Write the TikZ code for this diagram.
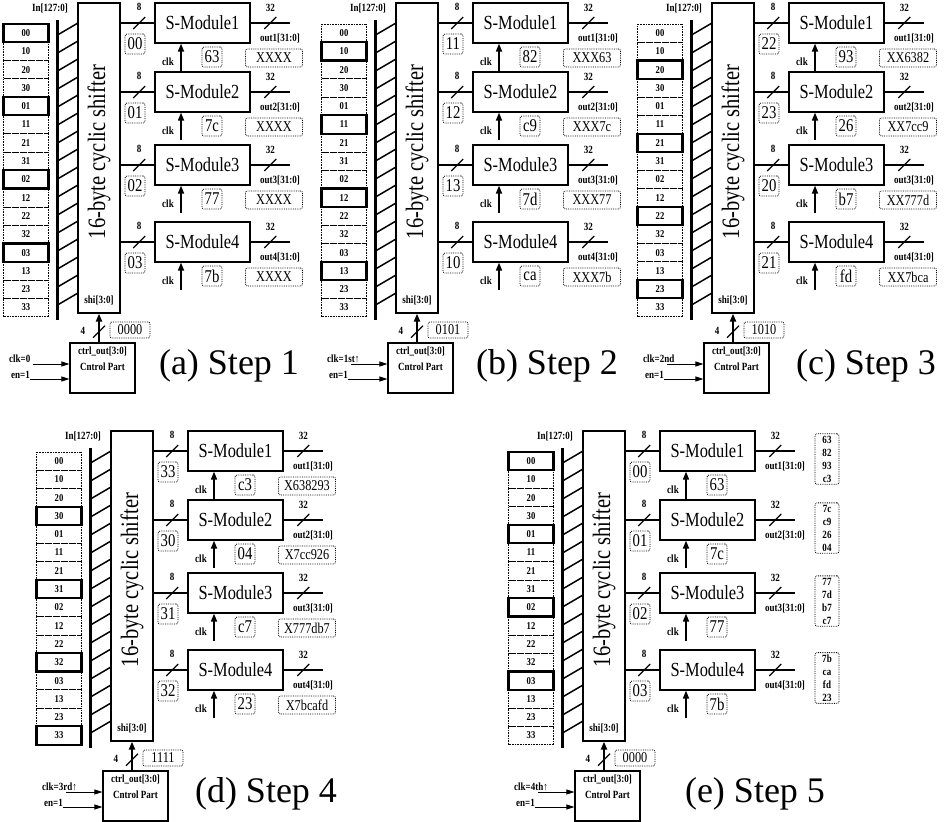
\documentclass[tikz,border=0pt]{standalone}
\usepackage{fontspec}
\newfontfamily\figfont{Liberation Serif}[FakeStretch=0.82]
\newfontfamily\capfont{Liberation Serif}
\usetikzlibrary{arrows.meta,positioning}

% one step of the shifter example
% #1 origin, #2 tag, #3 lit byte row, #4 module rows, #5 ctrl value,
% #6 clk text, #7 out box style, #8 caption x, #9 step number
\newcommand{\steppanel}[9]{%
\begin{scope}[shift={#1}]
  % input bytes
  \foreach \bj in {0,...,3}{
    \foreach \bi in {0,...,3}{
      \ifnum\bi=#3
        \node[litcell] (#2c\bi\bj) at (26,{33+18.3*(4*\bj+\bi)}) {\bi\bj};
      \else
        \node[cell] (#2c\bi\bj) at (26,{33+18.3*(4*\bj+\bi)}) {\bi\bj};
      \fi
    }
  }
  \node[lbl] (#2in) at (50,8) {In[127:0]};
  \draw[busline] (57.5,20) -- (57.5,320);
  \node[shifter] (#2sh) at (99,158) {};
  \foreach \k in {0,...,15}
    \draw[hatch] (57.5,{35+18*\k}) -- (78,{23+18*\k});
  \node[shtitle, rotate=90] (#2tt) at (99,152) {16-byte cyclic shifter};
  \node[lbl] (#2shi) at (99,300) {shi[3:0]};

  % modules
  \foreach \i/\sv/\rv/\ov in {#4}{
    \pgfmathsetmacro{\yc}{{23,92,165,242}[\i-1]}
    \node[module] (#2m\i) at (202.5,\yc) {S-Module\i};
    \draw[wire] (#2sh.east |- #2m\i) -- coordinate[pos=.55] (#2s\i) (#2m\i);
    \draw[slash] ([shift={(-6,6)}]#2s\i) -- ([shift={(6,-6)}]#2s\i);
    \node[lbl] at ([shift={(0,-16)}]#2s\i) {8};
    \node[valbox] (#2d\i) at (135,{\yc+21}) {\sv};
    \draw[obus] (#2m\i) -- coordinate[pos=.5] (#2t\i) (290,\yc) coordinate (#2o\i);
    \draw[slash] ([shift={(-6,6)}]#2t\i) -- ([shift={(6,-6)}]#2t\i);
    \node[lbl] at ([shift={(0,-15)}]#2t\i) {32};
    \node[lbl] at ([shift={(-10,15)}]#2o\i) {out\i[31:0]};
    \node[#7] (#2v\i) at (#2o\i) {\ov};
    \coordinate (#2k\i) at (181,{\yc+48});
    \draw[clkarrow] (#2k\i) -- (#2k\i |- #2m\i.south);
    \node[lbl] at ([shift={(-13,-9)}]#2k\i) {clk};
    \node[valbox] (#2r\i) at (212,{\yc+34}) {\rv};
  }

  % control part
  \node[ctrlbox] (#2cp) at (102.5,368) {};
  \node[lbl, align=center, below=3pt of #2cp.north] {ctrl\_out[3:0]\\[4pt]Cntrol Part};
  \draw[ctrlbus] (#2cp.north -| #2sh.south) -- coordinate[pos=.37] (#2cs) (#2sh.south);
  \draw[slash] ([shift={(-6,6)}]#2cs) -- ([shift={(6,-6)}]#2cs);
  \node[lbl] at ([shift={(-16,-1)}]#2cs) {4};
  \node[ctrlval] (#2cv) at (130,330) {#5};
  \coordinate (#2ck) at (33,364);
  \coordinate (#2en) at (30,379);
  \draw[inarrow] (#2ck) -- (#2ck -| #2cp.west);
  \draw[inarrow] (#2en) -- (#2en -| #2cp.west);
  \node[lbl, anchor=south west] at (8,364) {#6};
  \node[lbl, anchor=south west] at (10,380) {en=1};

  \node[captxt] (#2cap) at (#8,366) {(#2) Step #9};
\end{scope}}

\begin{document}
\begin{tikzpicture}[
  x=1pt, y=-1pt,
  every node/.style={font=\figfont},
  cell/.style={draw, densely dotted, line width=.6pt, minimum width=45pt, minimum height=18.3pt,
    inner sep=0pt, font=\figfont\bfseries\fontsize{10.5}{12}\selectfont},
  litcell/.style={cell, solid, line width=2.2pt},
  shifter/.style={draw, line width=1.2pt, minimum width=42pt, minimum height=310pt, inner sep=0pt},
  shtitle/.style={font=\figfont\fontsize{25}{27}\selectfont},
  module/.style={draw, line width=1.2pt, minimum width=95pt, minimum height=40pt,
    font=\figfont\fontsize{20}{22}\selectfont},
  ctrlbox/.style={draw, line width=1.2pt, minimum width=65pt, minimum height=50pt},
  valbox/.style={draw, densely dotted, line width=.8pt, rounded corners=2pt, inner sep=1.5pt,
    minimum width=20pt, minimum height=20pt, font=\figfont\fontsize{18}{20}\selectfont},
  outbox/.style={valbox, minimum width=57pt, minimum height=18pt,
    font=\figfont\fontsize{15}{17}\selectfont, shift={(-16,35)}},
  stackbox/.style={valbox, minimum width=24pt, inner sep=2pt, align=center,
    font=\figfont\bfseries\fontsize{11}{13}\selectfont, shift={(32,8)}},
  ctrlval/.style={valbox, minimum width=40pt, minimum height=16pt, font=\figfont\fontsize{15}{16}\selectfont},
  lbl/.style={font=\figfont\bfseries\fontsize{11}{12}\selectfont, inner sep=1pt},
  captxt/.style={font=\capfont\fontsize{36}{40}\selectfont},
  wire/.style={line width=1.6pt},
  obus/.style={line width=2pt},
  slash/.style={line width=1.2pt},
  hatch/.style={line width=1.5pt},
  busline/.style={line width=3pt},
  clkarrow/.style={-{Triangle[length=8pt,width=6pt]}, line width=1.6pt},
  ctrlbus/.style={clkarrow, line width=2.2pt},
  inarrow/.style={-{Triangle[length=8pt,width=5pt]}, line width=1pt},
]

\useasboundingbox (0,0) rectangle (946,822);

\steppanel{(0,0)}{a}{0}{1/00/63/XXXX, 2/01/7c/XXXX, 3/02/77/XXXX, 4/03/7b/XXXX}{0000}{clk=0}{outbox}{229}{1}
\steppanel{(318,0)}{b}{1}{1/11/82/XXX63, 2/12/c9/XXX7c, 3/13/7d/XXX77, 4/10/ca/XXX7b}{0101}{clk=1st↑}{outbox}{229}{2}
\steppanel{(634,0)}{c}{2}{1/22/93/XX6382, 2/23/26/XX7cc9, 3/20/b7/XX777d, 4/21/fd/XX7bca}{1010}{clk=2nd}{outbox}{232}{3}
\steppanel{(33,428)}{d}{3}{1/33/c3/X638293, 2/30/04/X7cc926, 3/31/c7/X777db7, 4/32/23/X7bcafd}{1111}{clk=3rd↑}{outbox}{233}{4}
\steppanel{(505,428)}{e}{0}{1/00/63/{63\\82\\93\\c3}, 2/01/7c/{7c\\c9\\26\\04}, 3/02/77/{77\\7d\\b7\\c7}, 4/03/7b/{7b\\ca\\fd\\23}}{0000}{clk=4th↑}{stackbox}{250}{5}

\end{tikzpicture}
\end{document}
